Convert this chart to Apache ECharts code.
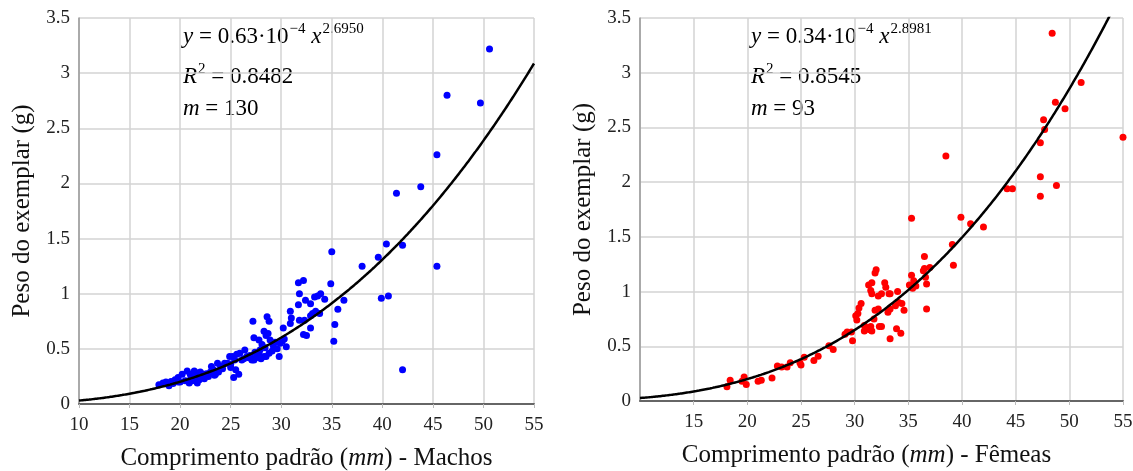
<!DOCTYPE html>
<html>
<head>
<meta charset="utf-8">
<script src="https://cdn.jsdelivr.net/npm/echarts@6/dist/echarts.min.js"></script>
<style>
  html, body { margin: 0; padding: 0; background: #fff; }
  #main { width: 1133px; height: 471px; }
</style>
</head>
<body>
<div id="main"></div>
<script>
// comprimento (mm), peso (g) - machos
var machos = [
  [50.6,3.22],[46.4,2.80],[49.7,2.73],[45.4,2.26],[43.8,1.97],[41.4,1.91],[40.4,1.45],[42.0,1.44],
  [39.6,1.33],[38.0,1.25],[45.4,1.25],[39.9,0.96],[40.6,0.98],[42.0,0.31],[36.2,0.94],[35.6,0.86],
  [35.0,1.38],[31.7,1.10],[32.2,1.12],[34.9,1.09],[31.8,1.00],[33.9,1.00],[33.6,0.98],[33.3,0.97],
  [32.4,0.94],[31.7,0.90],[32.9,0.91],[34.3,0.95],[30.9,0.84],[33.4,0.84],[33.1,0.82],[32.9,0.80],
  [33.8,0.82],[28.6,0.79],[28.8,0.75],[27.2,0.75],[31.8,0.76],[32.3,0.76],[30.9,0.73],[35.3,0.72],
  [32.9,0.69],[30.2,0.69],[32.2,0.63],[32.5,0.62],[35.2,0.57],[28.3,0.66],[28.7,0.64],[28.5,0.62],
  [27.3,0.60],[27.8,0.58],[30.3,0.59],[30.5,0.52],[28.9,0.58],[29.2,0.53],[28.1,0.54],[28.4,0.51],
  [29.8,0.43],[27.4,0.47],[27.8,0.45],[28.3,0.43],[26.8,0.42],[27.1,0.40],[27.5,0.42],[27.9,0.49],
  [29.4,0.56],[31.0,0.78],[29.9,0.55],[28.0,0.41],
  [17.9,0.175],[18.3,0.19],[18.6,0.20],[18.9,0.165],[19.1,0.205],[19.3,0.185],[19.5,0.22],[19.8,0.20],
  [19.8,0.24],[20.0,0.20],[20.2,0.27],[20.5,0.21],[20.7,0.30],[20.9,0.19],[21.0,0.27],[21.0,0.22],
  [21.2,0.21],[21.3,0.24],[21.4,0.30],[21.6,0.24],[21.7,0.28],[21.7,0.19],[21.9,0.22],[22.0,0.29],
  [22.1,0.24],[22.3,0.27],[22.4,0.23],[22.6,0.275],[22.8,0.25],[23.0,0.29],[23.1,0.34],[23.3,0.31],
  [23.5,0.27],[23.7,0.37],[23.8,0.29],[24.0,0.34],[24.2,0.32],[24.4,0.37],[24.7,0.37],[24.9,0.43],
  [25.0,0.33],[25.0,0.36],[25.2,0.43],[25.3,0.24],[25.4,0.40],[25.5,0.31],[25.6,0.45],[25.8,0.27],
  [25.9,0.46],[26.1,0.40],[26.3,0.41],[26.4,0.49],[26.6,0.43],[26.9,0.44],[27.3,0.40],[27.6,0.44],
  [28.5,0.43],[28.8,0.46],[29.1,0.48],[29.6,0.50],[30.1,0.57],[23.4,0.26]
];

// comprimento (mm), peso (g) - femeas
var femeas = [
  [48.4,3.36],[51.1,2.91],[48.7,2.73],[49.6,2.67],[47.6,2.57],[47.7,2.48],[47.3,2.36],[55.0,2.41],
  [38.5,2.24],[47.3,2.05],[48.8,1.97],[47.3,1.87],[44.2,1.94],[44.7,1.94],[35.3,1.67],[39.9,1.68],
  [40.8,1.62],[42.0,1.59],[39.1,1.43],[39.2,1.24],
  [36.5,1.32],[36.5,1.21],[37.0,1.22],[36.4,1.19],[36.6,1.13],[36.7,1.07],[36.7,0.84],[35.3,1.15],
  [35.5,1.10],[35.1,1.06],[35.4,1.03],[35.7,1.05],[32.0,1.20],[31.9,1.17],[31.6,1.08],[31.3,1.06],
  [31.5,1.01],[31.6,0.98],[32.8,1.08],[32.9,1.04],[32.5,0.98],[33.2,0.98],[34.0,1.00],[32.2,0.96],
  [33.3,0.98],[30.6,0.89],[30.4,0.85],[30.3,0.80],[30.1,0.78],[34.1,0.90],[33.8,0.87],[33.3,0.84],
  [33.1,0.81],[32.2,0.84],[31.9,0.83],[34.6,0.83],[34.4,0.89],[30.2,0.74],[31.8,0.75],[30.9,0.69],
  [31.2,0.67],[31.5,0.68],[32.3,0.68],[32.5,0.68],[31.4,0.65],[30.9,0.64],[31.6,0.64],[29.3,0.63],
  [29.1,0.61],[29.7,0.63],[29.8,0.55],[33.9,0.66],[34.3,0.62],[33.3,0.57],
  [28.0,0.47],[27.6,0.505],[26.6,0.41],[26.2,0.37],[25.3,0.40],[24.9,0.35],[25.0,0.33],[24.0,0.35],
  [23.7,0.31],[22.8,0.32],[23.2,0.31],[22.3,0.21],[21.3,0.19],[21.0,0.18],[19.9,0.15],[19.7,0.22],
  [19.5,0.18],[18.4,0.19],[18.1,0.13]
];

// curvas ajustadas  y = a * x^b  (coeficientes impressos no grafico)
var ajusteMachos = { a: 0.63e-4, b: 2.6950 };
var ajusteFemeas = { a: 0.34e-4, b: 2.8981 };

var xMin = 10, xMax = 55, xInterval = 5;
var yMin = 0, yMax = 3.5, yInterval = 0.5;

function curva(aj) {
    var pts = [];
    for (var x = xMin; x <= xMax + 1e-9; x += 0.25) {
        pts.push([x, aj.a * Math.pow(x, aj.b)]);
    }
    return pts;
}

var serif = '"Liberation Serif", "Times New Roman", serif';

function eixoX(idx, nome, showMin) {
    return {
        type: 'value', gridIndex: idx, min: xMin, max: xMax, interval: xInterval,
        name: nome, nameLocation: 'middle', nameGap: 42,
        nameTextStyle: {
            fontFamily: serif, fontSize: 25, color: '#111',
            padding: idx == 1 ? [0, 30, 0, 0] : 0,
            rich: { it: { fontFamily: serif, fontSize: 25, fontStyle: 'italic', color: '#111' } }
        },
        axisLine: { onZero: false, lineStyle: { color: '#666', width: 2 } },
        axisTick: { show: true, length: 4, lineStyle: { color: '#bbb' } },
        axisLabel: { fontFamily: serif, fontSize: 19, color: '#222', margin: 12, showMinLabel: showMin },
        splitLine: { show: true, lineStyle: { color: '#d3d3d3', width: 1.5 } }
    };
}

function eixoY(idx) {
    return {
        type: 'value', gridIndex: idx, min: yMin, max: yMax, interval: yInterval,
        name: 'Peso do exemplar (g)', nameLocation: 'middle', nameGap: 44,
        nameTextStyle: { fontFamily: serif, fontSize: 25, color: '#111' },
        axisLine: { show: true, lineStyle: { color: '#999', width: 1.5 } },
        axisTick: { show: false },
        axisLabel: { fontFamily: serif, fontSize: 19, color: '#222', margin: 9 },
        splitLine: { show: true, lineStyle: { color: '#d3d3d3', width: 1.5 } }
    };
}

var richEq = {
    n: { fontFamily: serif, fontSize: 23, color: '#111', lineHeight: 30 },
    i: { fontFamily: serif, fontSize: 23, fontStyle: 'italic', color: '#111', lineHeight: 30 },
    s: { fontFamily: serif, fontSize: 15, color: '#111', verticalAlign: 'top', lineHeight: 30, padding: [0, 0, 0, 1] }
};

function textoEq(left, top, txt) {
    return { type: 'text', left: left, top: top, style: { text: txt, rich: richEq } };
}

var dom = document.getElementById('main');
var myChart = echarts.init(dom);
var option = {
    animation: false,
    grid: [
        { left: 79, top: 18, width: 455, height: 386, outerBoundsMode: 'none', containLabel: false },
        { left: 640, top: 18, width: 483, height: 383, outerBoundsMode: 'none', containLabel: false }
    ],
    xAxis: [
        eixoX(0, 'Comprimento padrão ({it|mm}) - Machos', true),
        eixoX(1, 'Comprimento padrão ({it|mm}) - Fêmeas', false)
    ],
    yAxis: [eixoY(0), eixoY(1)],
    series: [
        {
            name: 'machos', type: 'scatter', xAxisIndex: 0, yAxisIndex: 0,
            symbolSize: 7, itemStyle: { color: '#0000ff', opacity: 1 }, data: machos
        },
        {
            name: 'femeas', type: 'scatter', xAxisIndex: 1, yAxisIndex: 1,
            symbolSize: 7, itemStyle: { color: '#ff0000', opacity: 1 }, data: femeas
        },
        {
            name: 'ajuste machos', type: 'line', xAxisIndex: 0, yAxisIndex: 0,
            showSymbol: false, smooth: true, z: 5,
            lineStyle: { color: '#000', width: 2.5 }, data: curva(ajusteMachos)
        },
        {
            name: 'ajuste femeas', type: 'line', xAxisIndex: 1, yAxisIndex: 1,
            showSymbol: false, smooth: true, z: 5,
            lineStyle: { color: '#000', width: 2.5 }, data: curva(ajusteFemeas)
        }
    ],
    graphic: [
        textoEq(183, 22, '{i|y}{n| = 0.63·10}{s|−4}{n| }{i|x}{s|2.6950}'),
        textoEq(183, 62, '{i|R}{s|2}{n| = 0.8482}'),
        textoEq(183, 97, '{i|m}{n| = 130}'),
        textoEq(751, 22, '{i|y}{n| = 0.34·10}{s|−4}{n| }{i|x}{s|2.8981}'),
        textoEq(751, 62, '{i|R}{s|2}{n| = 0.8545}'),
        textoEq(751, 97, '{i|m}{n| = 93}')
    ]
};
if (option && typeof option === "object") {
    myChart.setOption(option, true);
}
</script>
</body>
</html>
